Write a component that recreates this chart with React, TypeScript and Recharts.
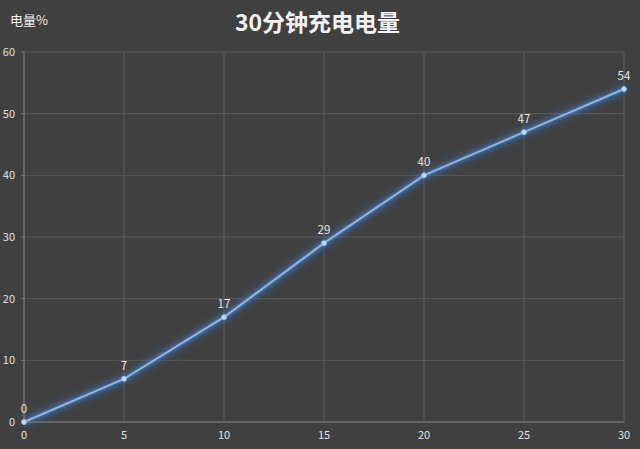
import React from 'react';
import { LineChart, Line, XAxis, YAxis, CartesianGrid, LabelList } from 'recharts';

const minutes = [0, 5, 10, 15, 20, 25, 30];
const charge = [0, 7, 17, 29, 40, 47, 54];
const xTicks = [0, 5, 10, 15, 20, 25, 30];
const yTicks = [0, 10, 20, 30, 40, 50, 60];
const title = '30分钟充电电量';
const yLabel = '电量%';

const data = minutes.map((m, i) => ({ m, v: charge[i] }));

const font = '"Noto Sans CJK SC", "Noto Sans", sans-serif';

export default function App() {
  return (
    <div style={{ position: 'absolute', left: 0, top: 0, width: 640, height: 449, background: '#404040', fontFamily: font, overflow: 'hidden' }}>
      <style>{`.glow path { filter: drop-shadow(0 0 2px #4f8fe0) drop-shadow(0 0 4px #3a78c8); }`}</style>
      <div style={{ position: 'absolute', left: 0, width: 635, top: 6, lineHeight: '30px', textAlign: 'center', color: '#f2f2f2', fontSize: 23, fontWeight: 'bold' }}>{title}</div>
      <div style={{ position: 'absolute', left: 10, top: 11, lineHeight: '18px', color: '#f0f0f0', fontSize: 13 }}>{yLabel}</div>
      <LineChart width={640} height={449} data={data} margin={{ top: 52, right: 16, bottom: 7, left: 4 }}>
        <CartesianGrid stroke="#5c5c5c" strokeWidth={1} verticalValues={xTicks} horizontalValues={yTicks} />
        <XAxis dataKey="m" type="number" domain={[0, 30]} ticks={xTicks} height={20} tickSize={0} tickMargin={9}
          axisLine={{ stroke: '#7a7a7a' }} tick={{ fill: '#e0e0e0', fontSize: 11, fontFamily: font }} />
        <YAxis type="number" domain={[0, 60]} ticks={yTicks} width={20} tickSize={3} tickMargin={6}
          axisLine={{ stroke: '#7a7a7a' }} tickLine={{ stroke: '#7a7a7a' }} tick={{ fill: '#e0e0e0', fontSize: 11, fontFamily: font }} />
        <Line className="glow" dataKey="v" type="linear" stroke="#8db6e6" strokeWidth={2} isAnimationActive={false}
          dot={{ r: 2.5, fill: '#c0dcf8', stroke: '#8db6e6', strokeWidth: 1 }}>
          <LabelList dataKey="v" position="top" offset={9} fill="#e8e8e8" fontSize={11.5} fontFamily={font} />
        </Line>
      </LineChart>
    </div>
  );
}
